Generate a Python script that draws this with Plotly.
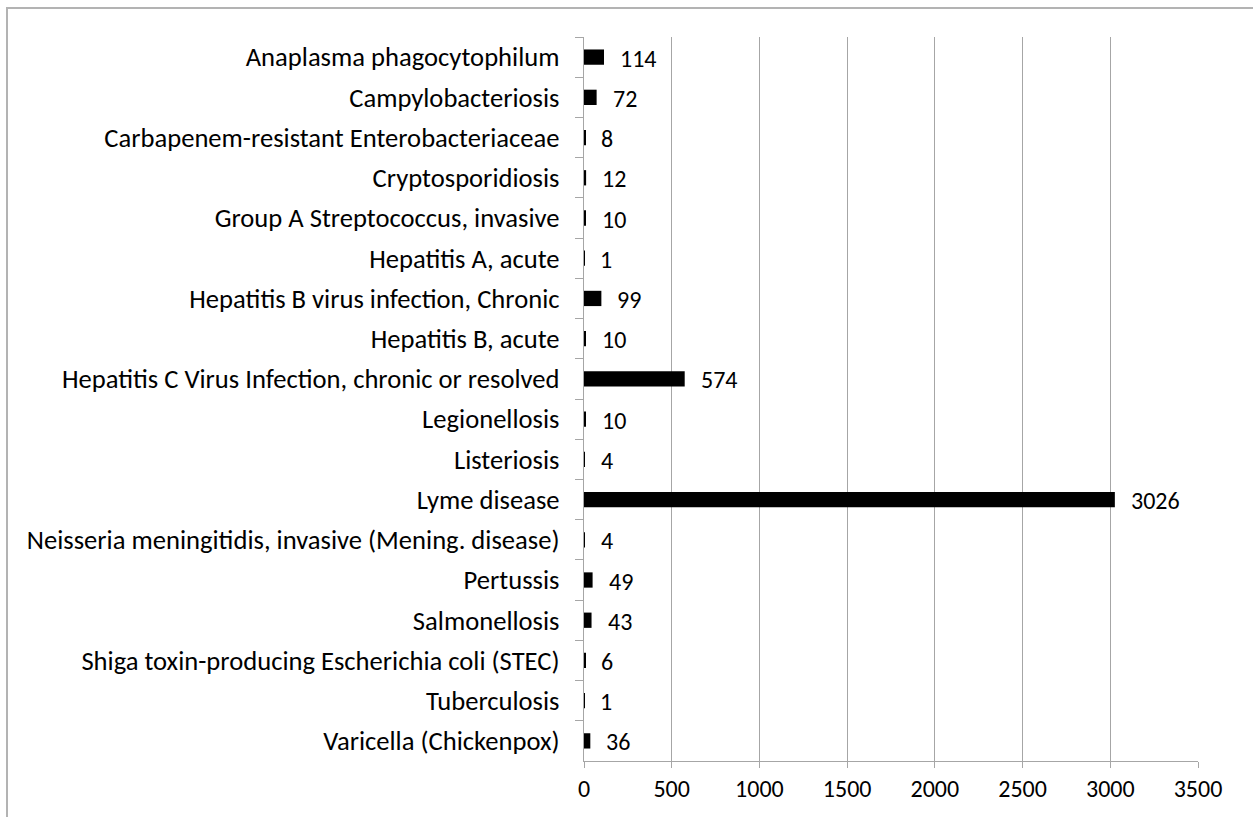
import plotly.graph_objects as go

categories = [
    "Anaplasma phagocytophilum",
    "Campylobacteriosis",
    "Carbapenem-resistant Enterobacteriaceae",
    "Cryptosporidiosis",
    "Group A Streptococcus, invasive",
    "Hepatitis A, acute",
    "Hepatitis B virus infection, Chronic",
    "Hepatitis B, acute",
    "Hepatitis C Virus Infection, chronic or resolved",
    "Legionellosis",
    "Listeriosis",
    "Lyme disease",
    "Neisseria meningitidis, invasive (Mening. disease)",
    "Pertussis",
    "Salmonellosis",
    "Shiga toxin-producing Escherichia coli (STEC)",
    "Tuberculosis",
    "Varicella (Chickenpox)",
]
values = [114, 72, 8, 12, 10, 1, 99, 10, 574, 10, 4, 3026, 4, 49, 43, 6, 1, 36]
x_ticks = [0, 500, 1000, 1500, 2000, 2500, 3000, 3500]

W, H = 1253, 817
L, R, T, B = 584, 1198, 37, 761
FONT = "Carlito, Calibri, Lato, sans-serif"
FS = 24
FS_CAT = 26.6
GRID = "#A6A6A6"

fig = go.Figure()
fig.add_trace(go.Bar(
    y=categories, x=values, orientation="h",
    marker=dict(color="black", line=dict(width=0)),
    width=0.38, showlegend=False, hoverinfo="x+y",
))

for c, v in zip(categories, values):
    fig.add_annotation(x=v, y=c, text=str(v), showarrow=False,
                       xanchor="left", xshift=14, yshift=-1,
                       font=dict(family=FONT, size=FS, color="black"))

fig.update_xaxes(
    range=[0, 3500], tickvals=x_ticks, ticktext=[str(t) for t in x_ticks],
    showgrid=True, gridcolor=GRID, gridwidth=1.3,
    showline=True, linecolor=GRID, linewidth=1.3,
    ticks="outside", ticklen=6, tickcolor=GRID, tickwidth=1.3,
    zeroline=False, tickfont=dict(family=FONT, size=FS, color="black"),
    fixedrange=True,
)
fig.update_yaxes(
    autorange="reversed", type="category", tickson="boundaries",
    showline=True, linecolor=GRID, linewidth=1.3,
    ticks="outside", ticklen=8, tickcolor=GRID, tickwidth=1.3,
    showgrid=False, tickfont=dict(family=FONT, size=FS_CAT, color="black"),
    ticklabelstandoff=18, fixedrange=True,
)

# outer chart border (top and left edges visible)
px = lambda p: (p - L) / (R - L)
py = lambda p: (B - p) / (B - T)
fig.add_shape(type="rect", xref="paper", yref="paper", layer="below",
              x0=px(7), x1=px(W + 20), y0=py(8), y1=py(H + 20),
              line=dict(color="#B3B3B3", width=2), fillcolor="rgba(0,0,0,0)")

fig.update_layout(
    width=W, height=H,
    margin=dict(l=L, r=W - R, t=T, b=H - B),
    paper_bgcolor="white", plot_bgcolor="white",
    font=dict(family=FONT, size=FS, color="black"),
)

fig.write_html("out.html", config={"displayModeBar": False},
               post_script="document.body.style.margin='0';document.body.style.overflow='hidden';")
